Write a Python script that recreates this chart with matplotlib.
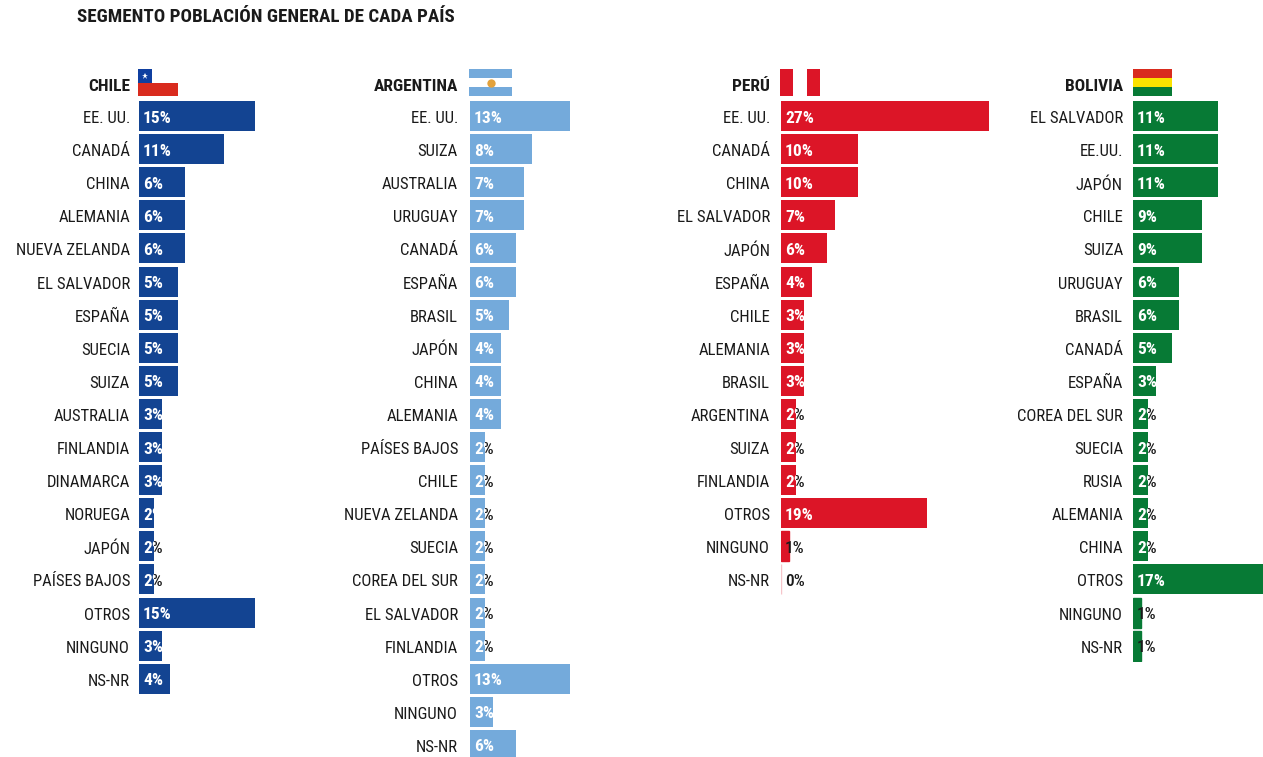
import matplotlib
matplotlib.use('Agg')
from matplotlib import pyplot as plt
from matplotlib.patches import Rectangle
from matplotlib.transforms import ScaledTranslation

plt.rcParams['font.family'] = ['Roboto Condensed', 'DejaVu Sans']

W, H = 1263, 757
PX_PER_PCT = 7.7
ROW_PX = 33.1
TOP_PX = 99.5

title = 'SEGMENTO POBLACIÓN GENERAL DE CADA PAÍS'

chile_labels = ['EE. UU.', 'CANADÁ', 'CHINA', 'ALEMANIA', 'NUEVA ZELANDA', 'EL SALVADOR', 'ESPAÑA', 'SUECIA', 'SUIZA',
                'AUSTRALIA', 'FINLANDIA', 'DINAMARCA', 'NORUEGA', 'JAPÓN', 'PAÍSES BAJOS', 'OTROS', 'NINGUNO', 'NS-NR']
chile_values = [15, 11, 6, 6, 6, 5, 5, 5, 5, 3, 3, 3, 2, 2, 2, 15, 3, 4]

argentina_labels = ['EE. UU.', 'SUIZA', 'AUSTRALIA', 'URUGUAY', 'CANADÁ', 'ESPAÑA', 'BRASIL', 'JAPÓN', 'CHINA', 'ALEMANIA',
                    'PAÍSES BAJOS', 'CHILE', 'NUEVA ZELANDA', 'SUECIA', 'COREA DEL SUR', 'EL SALVADOR', 'FINLANDIA',
                    'OTROS', 'NINGUNO', 'NS-NR']
argentina_values = [13, 8, 7, 7, 6, 6, 5, 4, 4, 4, 2, 2, 2, 2, 2, 2, 2, 13, 3, 6]

peru_labels = ['EE. UU.', 'CANADÁ', 'CHINA', 'EL SALVADOR', 'JAPÓN', 'ESPAÑA', 'CHILE', 'ALEMANIA', 'BRASIL', 'ARGENTINA',
               'SUIZA', 'FINLANDIA', 'OTROS', 'NINGUNO', 'NS-NR']
peru_values = [27, 10, 10, 7, 6, 4, 3, 3, 3, 2, 2, 2, 19, 1, 0]

bolivia_labels = ['EL SALVADOR', 'EE.UU.', 'JAPÓN', 'CHILE', 'SUIZA', 'URUGUAY', 'BRASIL', 'CANADÁ', 'ESPAÑA',
                  'COREA DEL SUR', 'SUECIA', 'RUSIA', 'ALEMANIA', 'CHINA', 'OTROS', 'NINGUNO', 'NS-NR']
bolivia_values = [11, 11, 11, 9, 9, 6, 6, 5, 3, 2, 2, 2, 2, 2, 17, 1, 1]


def px_axes(fig, left, top, width, height):
    return fig.add_axes([left / W, 1 - (top + height) / H, width / W, height / H])


def plot_panel(fig, name, labels, values, x0, label_gap, color):
    n = len(labels)
    ax = px_axes(fig, x0, TOP_PX, 230, n * ROW_PX)
    ax.set_xlim(0, 230 / PX_PER_PCT)
    ax.set_ylim(n - 0.5, -0.5)
    ax.patch.set_alpha(0)
    for spine in ax.spines.values():
        spine.set_visible(False)
    ax.set_xticks([])
    ax.set_yticks(range(n))
    ax.set_yticklabels(labels, fontsize=12, color='#1a1a1a')
    ax.tick_params(axis='y', length=0, pad=label_gap * 0.72)
    shift = ScaledTranslation(0, -1 / 100, fig.dpi_scale_trans)
    for tick_label in ax.get_yticklabels():
        tick_label.set_transform(tick_label.get_transform() + shift)

    bars = ax.barh(range(n), values, height=30 / ROW_PX, color=color, zorder=2)
    for i, (bar, value) in enumerate(zip(bars, values)):
        label = f'{value}%'
        pos = dict(xytext=(4 * 0.72, -2 * 0.72), textcoords='offset points', ha='left', va='center',
                   fontsize=12.5, annotation_clip=False)
        if value < 2:
            bar.set_edgecolor('#f6c5ca' if value == 0 else color)
            ax.annotate(label, (0, i), color='#1a1a1a', fontweight=500, zorder=4, **pos)
            continue
        # black under the bar, white on top and cut to the bar
        if (name, labels[i]) != ('CHILE', 'NORUEGA'):
            ax.annotate(label, (0, i), color='#1a1a1a', fontweight=500, zorder=1, **pos)
        white = ax.annotate(label, (0, i), color='white', fontweight='bold', zorder=3, **pos)
        white.set_clip_path(bar)
        white.set_clip_on(True)

    fig.text((x0 - label_gap) / W, 1 - 86.5 / H, name, ha='right', va='center', fontsize=12.5, fontweight='bold', color='#1a1a1a')
    return ax


def flag_chile(fig):
    ax = px_axes(fig, 138, 69, 40, 27)
    ax.set_xlim(0, 40)
    ax.set_ylim(27, 0)
    ax.axis('off')
    ax.add_patch(Rectangle((0, 14), 40, 13, color='#d92b1e', lw=0))
    ax.add_patch(Rectangle((0, 0), 14, 14, color='#0f3fa0', lw=0))
    ax.plot([6.5], [6.5], marker='*', color='white', ms=5, mew=0)


def flag_argentina(fig):
    ax = px_axes(fig, 469, 69, 43, 27)
    ax.set_xlim(0, 43)
    ax.set_ylim(27, 0)
    ax.axis('off')
    ax.add_patch(Rectangle((0, 0), 43, 9, color='#74aadb', lw=0))
    ax.add_patch(Rectangle((0, 18), 43, 9, color='#74aadb', lw=0))
    ax.plot([21.5], [13.5], marker='o', color='#e3a23c', ms=6, mew=0)


def flag_peru(fig):
    ax = px_axes(fig, 780, 69, 40, 27)
    ax.set_xlim(0, 40)
    ax.set_ylim(27, 0)
    ax.axis('off')
    ax.add_patch(Rectangle((0, 0), 13, 27, color='#dc1527', lw=0))
    ax.add_patch(Rectangle((27, 0), 13, 27, color='#dc1527', lw=0))


def flag_bolivia(fig):
    ax = px_axes(fig, 1133, 69, 39, 27)
    ax.set_xlim(0, 39)
    ax.set_ylim(27, 0)
    ax.axis('off')
    ax.add_patch(Rectangle((0, 0), 39, 9, color='#d92b1e', lw=0))
    ax.add_patch(Rectangle((0, 9), 39, 9, color='#fbe200', lw=0))
    ax.add_patch(Rectangle((0, 18), 39, 9, color='#077a35', lw=0))


def main():
    fig = plt.figure(figsize=(W / 100, H / 100), dpi=100)
    fig.text(77 / W, 1 - 17 / H, title, ha='left', va='center', fontsize=13.7, fontweight='bold', color='#1a1a1a')

    plot_panel(fig, 'CHILE', chile_labels, chile_values, 139, 9, '#134492')
    plot_panel(fig, 'ARGENTINA', argentina_labels, argentina_values, 470, 12, '#74aadb')
    plot_panel(fig, 'PERÚ', peru_labels, peru_values, 781, 11, '#dc1527')
    plot_panel(fig, 'BOLIVIA', bolivia_labels, bolivia_values, 1133, 10, '#077a35')

    flag_chile(fig)
    flag_argentina(fig)
    flag_peru(fig)
    flag_bolivia(fig)

    fig.savefig('out.png', dpi=100)


if __name__ == '__main__':
    main()
